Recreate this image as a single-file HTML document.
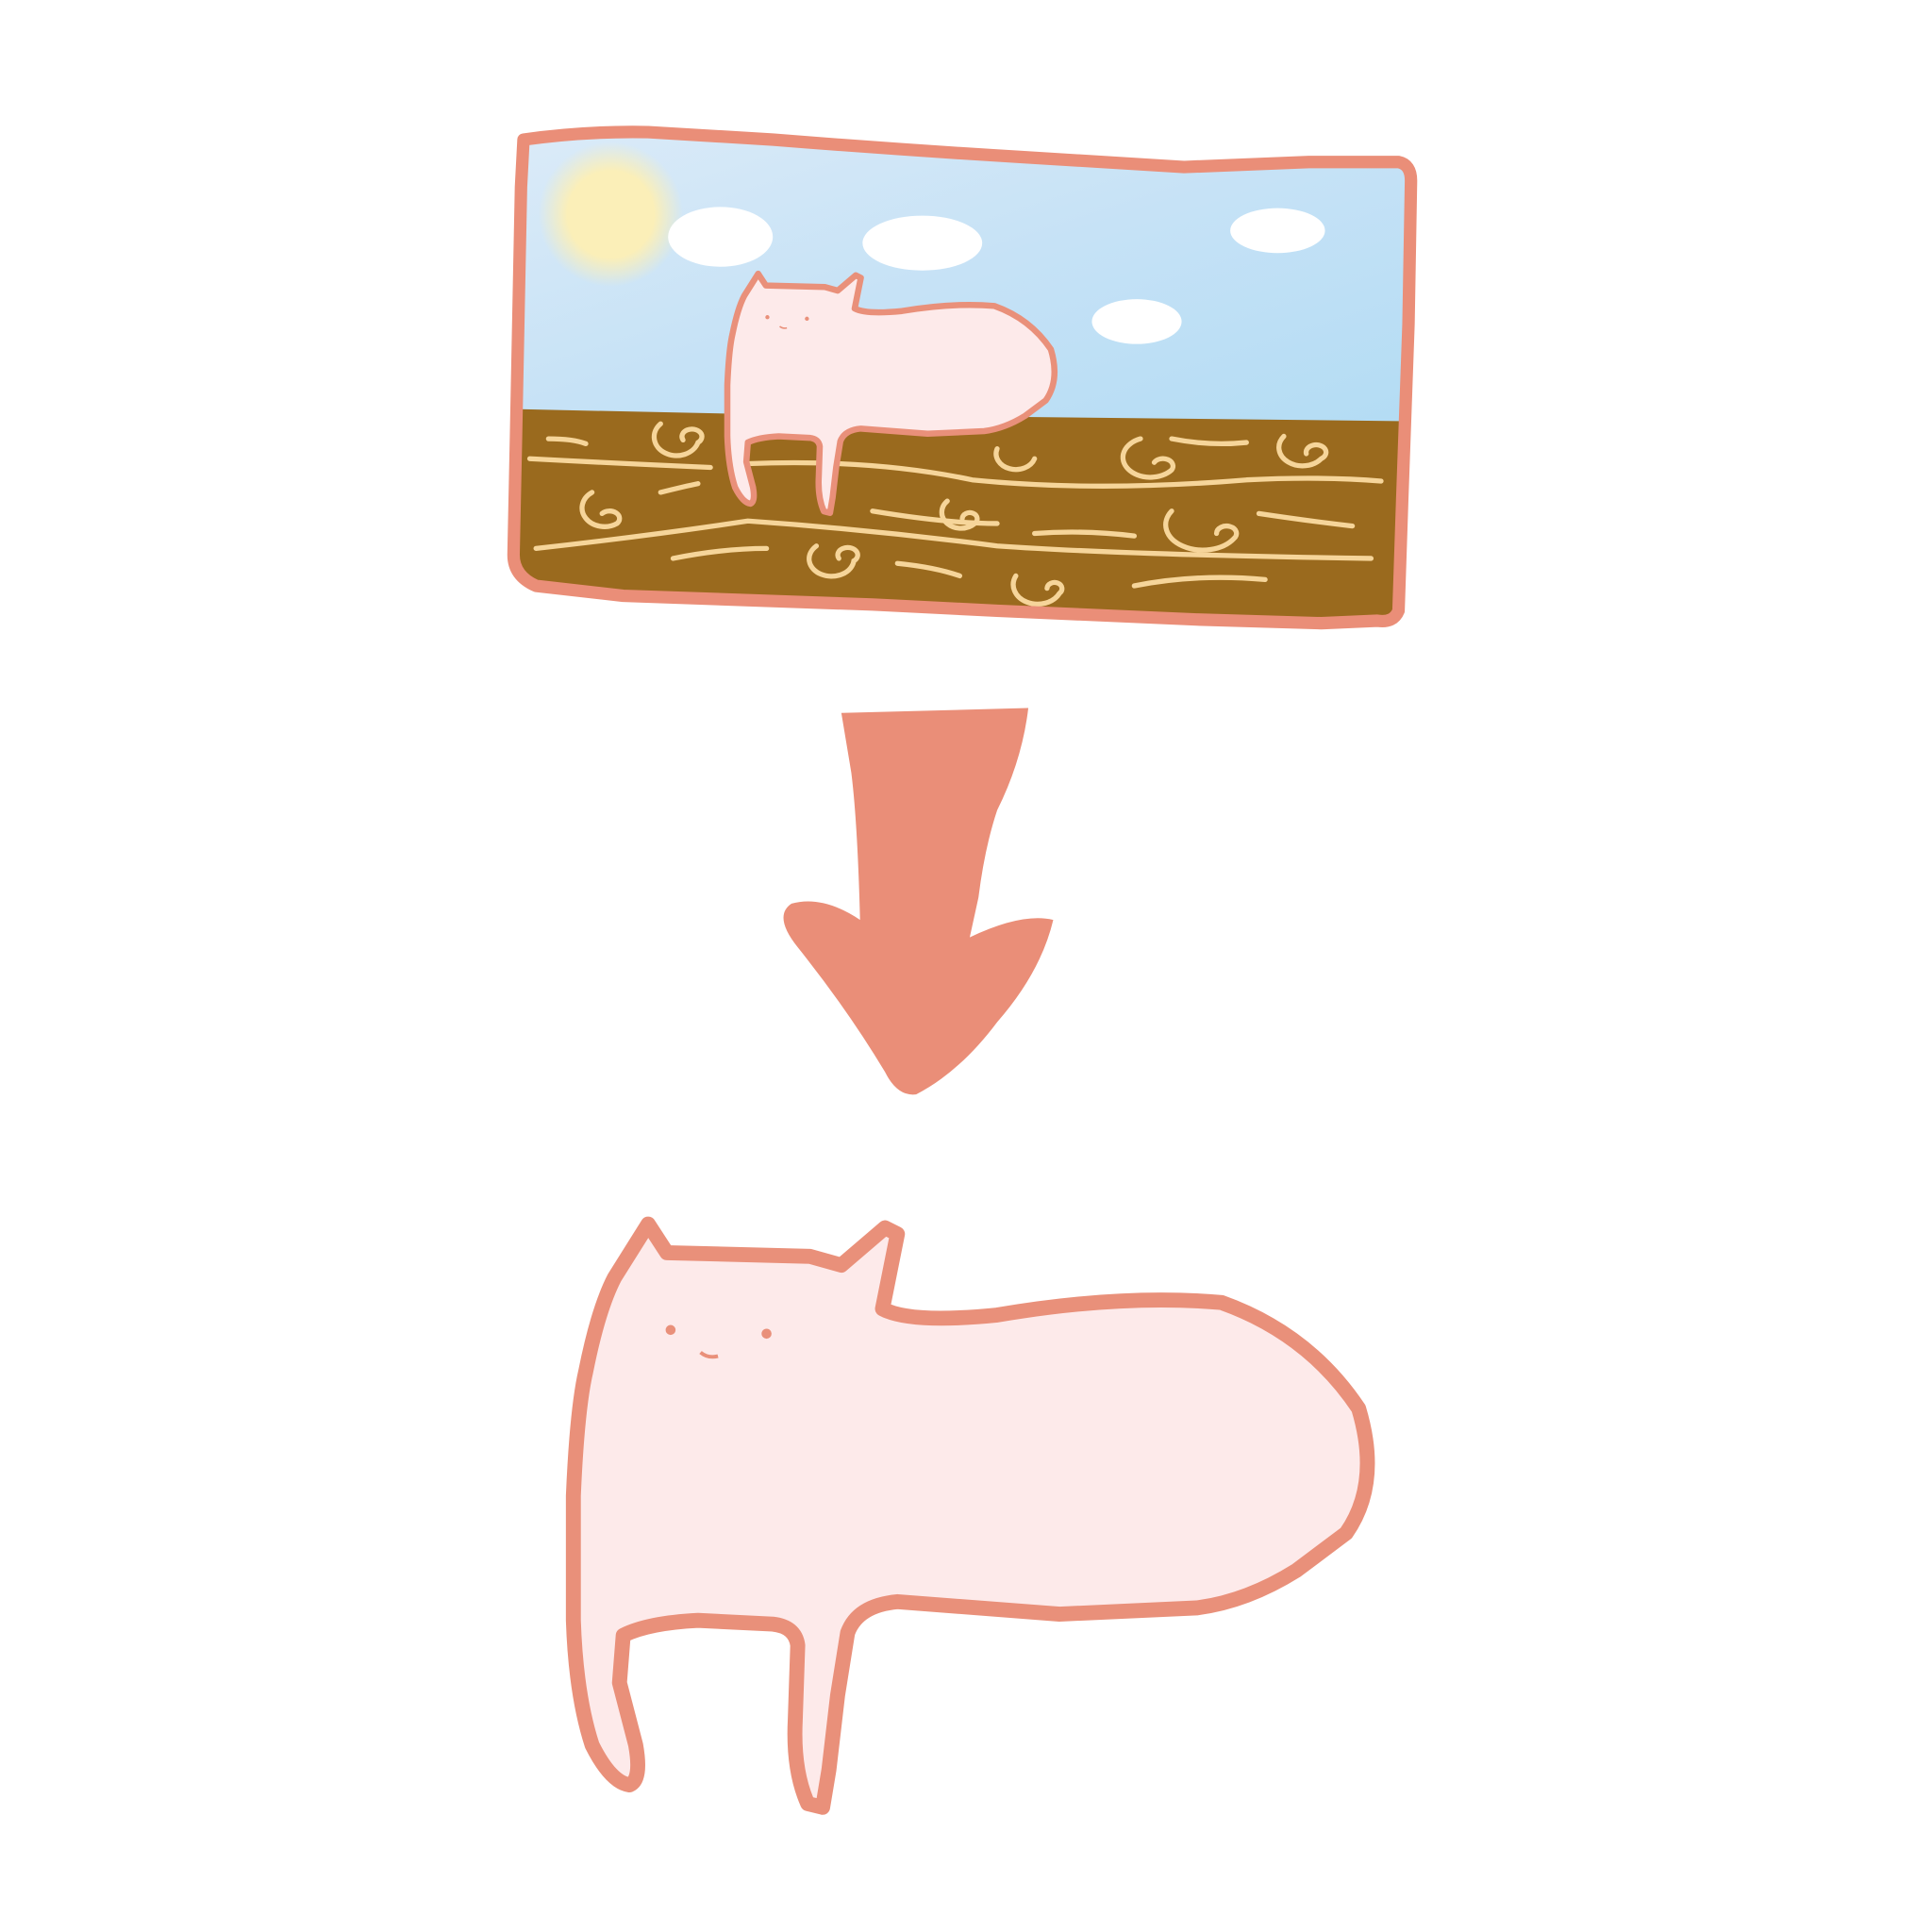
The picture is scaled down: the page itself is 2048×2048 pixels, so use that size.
<!DOCTYPE html>
<html><head><meta charset="utf-8"><style>html,body{margin:0;padding:0;background:#fff}svg{display:block}</style></head>
<body>
<svg width="2048" height="2048" viewBox="0 0 1550 1550">
<defs>
<linearGradient id="sky" x1="0" y1="0" x2="1" y2="1"><stop offset="0" stop-color="#dcebf8"/><stop offset="0.5" stop-color="#c6e2f6"/><stop offset="1" stop-color="#b3dcf4"/></linearGradient>
<radialGradient id="sun"><stop offset="0.6" stop-color="#fbefb8"/><stop offset="1" stop-color="#fbefb8" stop-opacity="0"/></radialGradient>
<clipPath id="fr"><path d="M420,112 Q470,105 520,106 L620,112 Q720,120 820,126 L950,134 L1050,130 L1122,130 Q1132,132 1132,145 L1130,260 L1125,400 L1122,490 Q1118,500 1105,498 L1060,500 L960,497 L800,490 L700,485 L500,478 L430,470 Q412,462 412,445 L414,350 L416,250 L418,150 Z"/></clipPath>
<g id="cat">
<path d="M493,1025 L520,982 L535,1005 L650,1008 L675,1015 L710,985 L720,990 L712,1030 L708,1050 Q730,1062 800,1055 Q900,1038 980,1045 Q1050,1070 1090,1130 Q1108,1190 1080,1230 L1040,1260 Q1000,1285 960,1290 L850,1295 L720,1285 Q688,1288 680,1310 L672,1360 L665,1420 L660,1450 L648,1447 Q636,1420 638,1380 L640,1320 Q638,1305 620,1303 L560,1300 Q520,1302 500,1312 L497,1350 L510,1400 Q515,1428 505,1432 Q490,1430 475,1400 Q462,1360 460,1300 L460,1200 Q463,1130 470,1100 Q480,1050 493,1025 Z" fill="#fdeaea" stroke="#e9907a" stroke-width="12" stroke-linejoin="round"/>
<circle cx="538" cy="1067" r="4" fill="#e9907a"/><circle cx="615" cy="1070" r="4" fill="#e9907a"/>
<path d="M562,1085 Q568,1090 576,1088" stroke="#e9907a" stroke-width="3" fill="none"/>
</g>
</defs>
<g>
<g clip-path="url(#fr)">
<rect x="405" y="100" width="735" height="240" fill="url(#sky)"/>
<circle cx="490" cy="172" r="58" fill="url(#sun)"/>
<g fill="#fff">
<ellipse cx="578" cy="190" rx="42" ry="24"/><ellipse cx="740" cy="195" rx="48" ry="22"/><ellipse cx="912" cy="258" rx="36" ry="18"/><ellipse cx="1025" cy="185" rx="38" ry="18"/>
</g>
<path d="M405,328 L590,332 L1140,338 L1140,510 L405,510 Z" fill="#9a6a1e"/>
</g>
<g stroke="#f6d59a" stroke-width="4" fill="none" stroke-linecap="round">
<path d="M425,368 Q500,372 570,375"/><path d="M430,440 Q520,430 600,418 Q700,425 800,438 Q900,445 1100,448"/>
<path d="M600,372 Q700,368 780,385 Q880,395 1000,385 Q1060,382 1108,386"/>
<path d="M700,410 Q760,420 800,420"/><path d="M830,428 Q870,425 910,430"/><path d="M1010,412 Q1050,418 1085,422"/>
<path d="M910,470 Q960,460 1015,465"/><path d="M720,452 Q750,455 770,462"/><path d="M540,448 Q580,440 615,440"/>
<path d="M440,352 Q460,352 470,356"/><path d="M530,395 Q550,390 560,388"/><path d="M940,352 Q970,358 1000,355"/>
<path d="M530,340 a18,15 0 1,0 30,15 a8,6 0 1,0 -12,-2"/><path d="M475,395 a18,15 0 1,0 20,25 a8,6 0 1,0 -12,-8"/>
<path d="M915,352 a22,16 0 1,0 25,25 a8,6 0 1,0 -14,-6"/><path d="M1030,350 a18,14 0 1,0 30,18 a8,6 0 1,0 -12,-4"/>
<path d="M800,360 a15,12 0 1,0 30,8"/><path d="M655,438 a18,14 0 1,0 30,12 a8,6 0 1,0 -12,-2"/>
<path d="M760,402 a12,10 0 1,0 22,18 a6,5 0 1,0 -10,-4"/><path d="M940,410 a22,15 0 1,0 50,22 a8,6 0 1,0 -14,-4"/>
<path d="M815,462 a15,12 0 1,0 35,14 a6,5 0 1,0 -10,-4"/>
</g>
<use href="#cat" transform="translate(394,-183) scale(0.412 0.41)"/>
<path d="M420,112 Q470,105 520,106 L620,112 Q720,120 820,126 L950,134 L1050,130 L1122,130 Q1132,132 1132,145 L1130,260 L1125,400 L1122,490 Q1118,500 1105,498 L1060,500 L960,497 L800,490 L700,485 L500,478 L430,470 Q412,462 412,445 L414,350 L416,250 L418,150 Z" fill="none" stroke="#ea8e78" stroke-width="10" stroke-linejoin="round"/>
</g>
<path d="M675,572 L825,568 Q820,610 800,650 Q790,680 785,720 L778,752 Q820,732 845,738 Q835,780 800,820 Q770,860 735,878 Q720,880 710,860 Q680,810 640,760 Q620,735 635,725 Q660,718 690,738 Q688,660 683,620 Q678,590 675,572 Z" fill="#ea8e78"/>
<use href="#cat"/>
</svg>
</body></html>
